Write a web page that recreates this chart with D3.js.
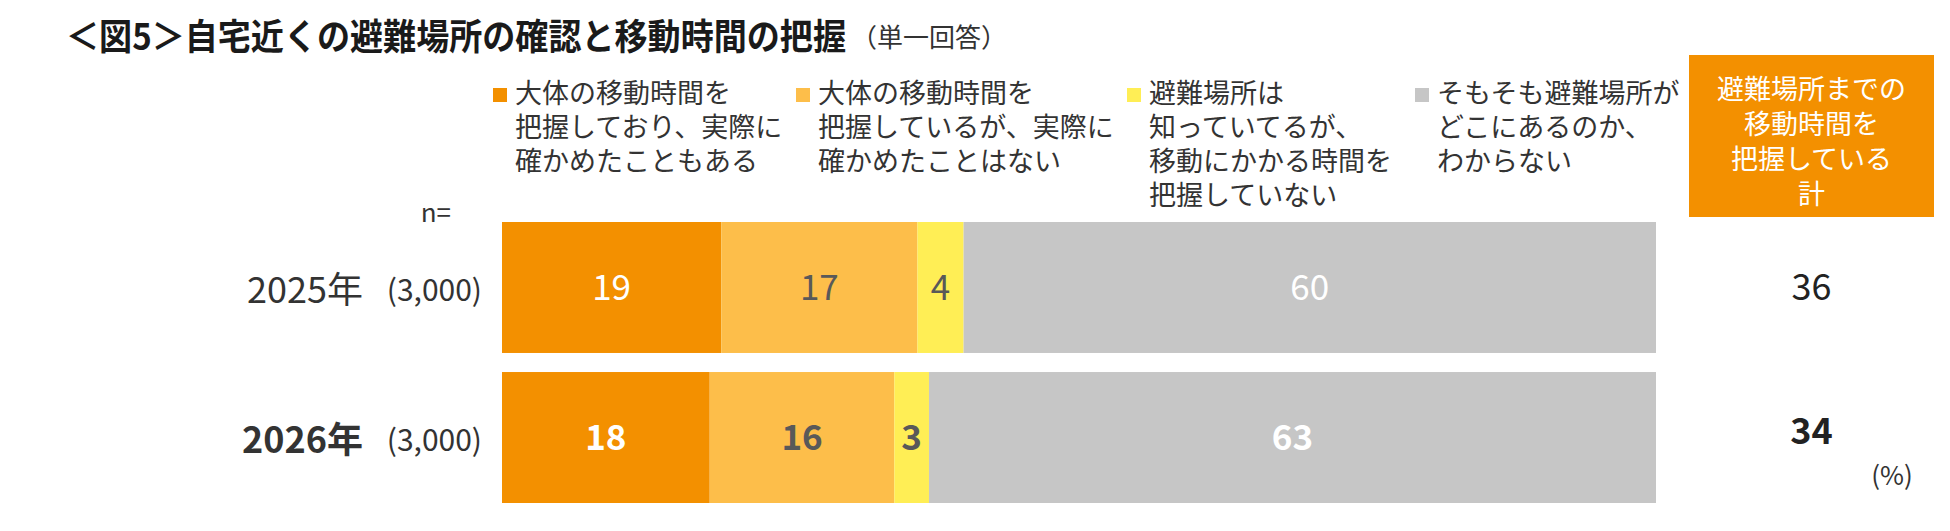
<!DOCTYPE html>
<html>
<head>
<meta charset="utf-8">
<script src="https://cdn.jsdelivr.net/npm/d3@7"></script>
<style>
  body { margin: 0; background: #fff; }
  svg text { font-family: "Noto Sans CJK JP", "Noto Sans", sans-serif; }
</style>
</head>
<body>
<div id="chart"></div>
<script>
// data
const years = ['2025年', '2026年'];
const sampleSizes = ['(3,000)', '(3,000)'];
const categories = [
    ['大体の移動時間を', '把握しており、実際に', '確かめたこともある'],
    ['大体の移動時間を', '把握しているが、実際に', '確かめたことはない'],
    ['避難場所は', '知っていてるが、', '移動にかかる時間を', '把握していない'],
    ['そもそも避難場所が', 'どこにあるのか、', 'わからない']
];
const knowConfirmed = [19, 18];
const knowNotConfirmed = [17, 16];
const knowPlaceOnly = [4, 3];
const dontKnowPlace = [60, 63];
const totalKnow = [36, 34];
const totalHeader = ['避難場所までの', '移動時間を', '把握している', '計'];

const colors = ['#F39000', '#FDBE4A', '#FFEE55', '#C6C6C6'];
const labelColors = ['#ffffff', '#595959', '#595959', '#ffffff'];

const rows = years.map((y, i) => ({
    year: y,
    k0: knowConfirmed[i],
    k1: knowNotConfirmed[i],
    k2: knowPlaceOnly[i],
    k3: dontKnowPlace[i],
    bold: i === 1
}));
const keys = ['k0', 'k1', 'k2', 'k3'];

const svg = d3.select('#chart')
    .append('svg')
    .attr('width', 1950)
    .attr('height', 531);

// title (condensed look like the original font)
svg.append('text')
    .attr('x', 66)
    .attr('y', 50)
    .attr('fill', '#1a1a1a')
    .attr('textLength', 780)
    .attr('lengthAdjust', 'spacingAndGlyphs')
    .style('font-size', '36px')
    .style('font-weight', 'bold')
    .text('＜図5＞自宅近くの避難場所の確認と移動時間の把握');
svg.append('text')
    .attr('x', 851)
    .attr('y', 47)
    .attr('fill', '#333')
    .style('font-size', '26px')
    .text('（単一回答）');

// scales
const x = d3.scaleLinear()
    .domain([0, 100])
    .range([502, 1656]);

const y = d3.scaleBand()
    .domain(years)
    .range([222, 503])
    .paddingInner(0.127);

const series = d3.stack().keys(keys)(rows);

// bars
const groups = svg.selectAll('g.series')
    .data(series)
    .enter()
    .append('g')
    .attr('class', 'series')
    .attr('fill', (d, i) => colors[i]);

groups.selectAll('rect')
    .data(d => d)
    .enter()
    .append('rect')
    .attr('x', d => x(d[0]))
    .attr('y', d => y(d.data.year))
    .attr('width', d => x(d[1]) - x(d[0]))
    .attr('height', y.bandwidth());

// value labels
series.forEach((s, si) => {
    svg.selectAll('text.val' + si)
        .data(s)
        .enter()
        .append('text')
        .attr('class', 'val' + si)
        .attr('x', d => (x(d[0]) + x(d[1])) / 2)
        .attr('y', d => y(d.data.year) + y.bandwidth() / 2)
        .attr('dy', '0.35em')
        .attr('text-anchor', 'middle')
        .attr('fill', labelColors[si])
        .style('font-size', '35px')
        .style('font-weight', d => d.data.bold ? 'bold' : 'normal')
        .text(d => d[1] - d[0]);
});

// row labels
svg.selectAll('text.year')
    .data(years)
    .enter()
    .append('text')
    .attr('class', 'year')
    .attr('x', 363)
    .attr('y', d => y(d) + y.bandwidth() / 2 + 3)
    .attr('dy', '0.35em')
    .attr('text-anchor', 'end')
    .attr('fill', '#333')
    .style('font-size', '36px')
    .style('font-weight', (d, i) => i === 1 ? 'bold' : 'normal')
    .text(d => d);

svg.selectAll('text.nsize')
    .data(sampleSizes)
    .enter()
    .append('text')
    .attr('class', 'nsize')
    .attr('x', 482)
    .attr('y', (d, i) => y(years[i]) + y.bandwidth() / 2 + 3)
    .attr('dy', '0.35em')
    .attr('text-anchor', 'end')
    .attr('fill', '#333')
    .style('font-size', '30px')
    .text(d => d);

svg.append('text')
    .attr('x', 451)
    .attr('y', 213)
    .attr('dy', '0.35em')
    .attr('text-anchor', 'end')
    .attr('fill', '#333')
    .style('font-size', '26px')
    .text('n=');

// legend
const legendX = [493, 796, 1127, 1415];
const legend = svg.selectAll('g.legend')
    .data(categories)
    .enter()
    .append('g')
    .attr('class', 'legend')
    .attr('transform', (d, i) => `translate(${legendX[i]}, 0)`);

legend.append('rect')
    .attr('x', 0)
    .attr('y', 88)
    .attr('width', 14)
    .attr('height', 14)
    .attr('fill', (d, i) => colors[i]);

legend.selectAll('text')
    .data(d => d)
    .enter()
    .append('text')
    .attr('x', 22)
    .attr('y', (d, i) => 94 + i * 34)
    .attr('dy', '0.35em')
    .attr('fill', '#333')
    .style('font-size', '27px')
    .text(d => d);

// total column header
const boxX = 1689, boxW = 245;
svg.append('rect')
    .attr('x', boxX)
    .attr('y', 55)
    .attr('width', boxW)
    .attr('height', 162)
    .attr('fill', colors[0]);

svg.selectAll('text.head')
    .data(totalHeader)
    .enter()
    .append('text')
    .attr('class', 'head')
    .attr('x', boxX + boxW / 2)
    .attr('y', (d, i) => 90 + i * 35)
    .attr('dy', '0.35em')
    .attr('text-anchor', 'middle')
    .attr('fill', '#fff')
    .style('font-size', '27px')
    .text(d => d);

// totals
svg.selectAll('text.total')
    .data(totalKnow)
    .enter()
    .append('text')
    .attr('class', 'total')
    .attr('x', boxX + boxW / 2)
    .attr('y', (d, i) => y(years[i]) + y.bandwidth() / 2 - (i === 1 ? 6 : 0))
    .attr('dy', '0.35em')
    .attr('text-anchor', 'middle')
    .attr('fill', '#222')
    .style('font-size', '36px')
    .style('font-weight', (d, i) => i === 1 ? 'bold' : 'normal')
    .text(d => d);

svg.append('text')
    .attr('x', 1892)
    .attr('y', 476)
    .attr('dy', '0.35em')
    .attr('text-anchor', 'middle')
    .attr('fill', '#333')
    .style('font-size', '26px')
    .text('(%)');
</script>
</body>
</html>
